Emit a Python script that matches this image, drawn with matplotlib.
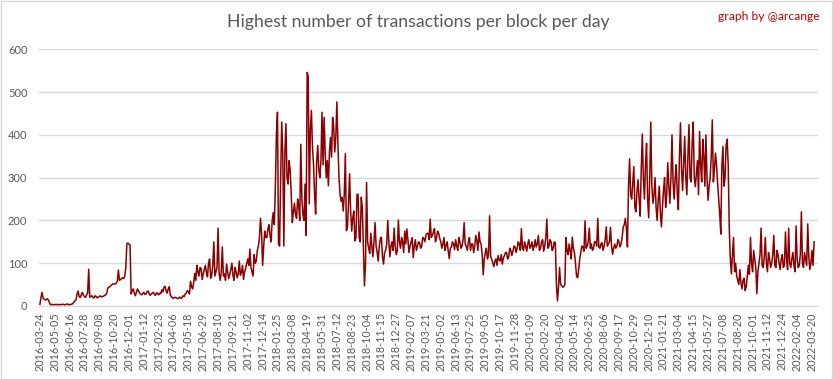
import numpy as np
import matplotlib.pyplot as plt
from matplotlib.patches import Rectangle

plt.rcParams['font.family'] = ['Lato', 'DejaVu Sans']

# category axis labels (Excel shows one every 42 rows)
tick_dates = ['2016-03-24', '2016-05-05', '2016-06-16', '2016-07-28', '2016-09-08',
              '2016-10-20', '2016-12-01', '2017-01-12', '2017-02-23', '2017-04-06',
              '2017-05-18', '2017-06-29', '2017-08-10', '2017-09-21', '2017-11-02',
              '2017-12-14', '2018-01-25', '2018-03-08', '2018-04-19', '2018-05-31',
              '2018-07-12', '2018-08-23', '2018-10-04', '2018-11-15', '2018-12-27',
              '2019-02-07', '2019-03-21', '2019-05-02', '2019-06-13', '2019-07-25',
              '2019-09-05', '2019-10-17', '2019-11-28', '2020-01-09', '2020-02-20',
              '2020-04-02', '2020-05-14', '2020-06-25', '2020-08-06', '2020-09-17',
              '2020-10-29', '2020-12-10', '2021-01-21', '2021-03-04', '2021-04-15',
              '2021-05-27', '2021-07-08', '2021-08-20', '2021-10-01', '2021-11-12',
              '2021-12-24', '2022-02-04', '2022-03-20']

# highest number of tx in a block, one reading every 3 rows (days)
seg_2016 = [4, 20, 32, 18, 16, 14, 15, 17, 14, 8,
            3, 3, 4, 3, 3, 4, 3, 3, 4, 3,
            3, 4, 4, 3, 3, 4, 5, 3, 3, 4,
            4, 6, 9, 12, 14, 28, 35, 22, 20, 26,
            32, 25, 22, 20, 26, 30, 86, 21, 22, 24,
            20, 19, 24, 22, 19, 21, 22, 24, 21, 22,
            23, 25, 26, 30, 42, 44, 45, 48, 50, 52,
            51, 52, 53, 58, 84, 60, 62, 64, 66, 64,
            70, 90, 146, 147, 144, 143, 28, 36, 40, 30,
            24, 32, 40, 35, 30, 28, 26, 29, 32, 27,
            28, 33, 35, 29, 25, 28, 30, 32, 27, 25,
            31, 29, 26, 30, 29, 38, 33, 44, 46, 35,
            30, 40]
seg_2017 = [45, 25, 22, 19, 18, 20, 20, 18,
            17, 19, 21, 18, 19, 24, 22, 28, 30, 36, 34, 28, 58, 45, 40, 55, 76, 60, 95, 80,
            70, 90, 88, 62, 75, 85, 95, 78, 68, 100, 110, 65, 72, 95, 150, 70, 80, 90, 182, 75,
            60, 80, 138, 70, 75, 60, 98, 80, 64, 75, 85, 100, 72, 60, 90, 80, 66, 75, 105, 72,
            78, 95, 62, 80, 88, 100, 110, 95, 133, 90, 80, 70, 120, 100, 105, 130, 140, 160, 205, 170,
            95, 140, 175, 160, 160, 180, 190, 165, 150, 200, 218, 190, 277, 402, 453, 145, 140, 300, 430, 354,
            140, 360, 426, 300, 285, 340, 317, 260, 195, 220, 240, 215, 205, 250]
seg_2018 = [235, 200, 378, 250, 215, 200, 285, 165, 546, 536, 239, 413, 457, 371, 330, 260, 215, 340, 375, 317,
            300, 340, 453, 330, 441, 356, 300, 340, 281, 360, 394, 348, 441, 418, 360, 395, 477, 379, 300, 261,
            245, 254, 222, 261, 356, 176, 185, 240, 309, 222, 175, 207, 222, 152, 160, 261, 261, 160, 150, 254,
            230, 137, 47, 98, 289, 150, 135, 123, 170, 140, 115, 150, 195, 140, 125, 105, 140, 157, 161, 115,
            98, 125, 130, 145, 200, 150, 115, 140, 150, 130, 182, 140, 120, 130, 201, 150, 135, 160, 150, 125,
            175, 145, 180, 155, 125, 140, 150, 160, 113, 140, 155, 130, 140, 150, 148, 135, 140, 160, 158, 150,
            165, 170]
seg_2019 = [170, 155, 203, 160, 165, 172, 181, 150, 160, 175, 170, 158, 150, 135, 145, 160, 130, 142, 150, 128,
            111, 135, 138, 150, 145, 132, 155, 140, 130, 160, 150, 135, 140, 155, 195, 145, 140, 130, 150, 160,
            130, 145, 145, 125, 140, 165, 152, 130, 173, 150, 145, 120, 73, 110, 125, 135, 110, 120, 211, 115,
            110, 100, 92, 105, 110, 95, 118, 108, 105, 120, 98, 112, 118, 125, 125, 110, 115, 135, 130, 118,
            128, 140, 138, 125, 135, 150, 145, 130, 181, 135, 130, 150, 140, 128, 145, 155, 135, 140, 150, 130,
            140, 155, 138, 145, 165, 130, 135, 150, 155, 128, 140, 160, 203, 135, 140, 155, 150, 130, 135, 150,
            148, 51]
seg_2020 = [12, 45, 90, 50, 48, 44, 45, 50, 160, 130, 120, 145, 130, 110, 161, 135, 125, 100, 70, 66, 85, 110,
            125, 140, 138, 128, 199, 135, 140, 150, 182, 135, 145, 130, 135, 150, 150, 140, 205, 138,
            135, 145, 148, 130, 140, 155, 185, 140, 145, 150, 184, 140, 121, 135, 145, 135, 140, 155, 150, 138,
            145, 160, 185, 190, 205, 180, 138, 280, 344, 260, 250, 290, 326, 230, 220, 270, 295, 250, 210, 320,
            402, 300, 250, 330, 380, 250, 206, 300, 430, 280, 240, 260, 300, 230, 200, 250, 280, 220, 185, 230,
            270, 300, 230, 260, 335, 280, 240, 300, 400, 290, 250, 300, 330, 260, 225, 350, 428, 320, 270, 330]
seg_2021 = [396, 300, 260, 350, 424, 300, 290, 380, 430, 300, 279, 310, 340, 260, 408, 330, 290, 390, 350, 280,
            400, 300, 247, 280, 300, 350, 435, 290, 320, 357, 330, 287, 250, 216, 168, 326, 373, 280, 300, 376,
            390, 330, 180, 110, 75, 120, 160, 80, 100, 70, 60, 50, 85, 55, 40, 60, 65, 36, 45, 70,
            95, 74, 160, 100, 80, 130, 110, 90, 29, 80, 100, 120, 182, 95, 90, 115, 160, 100, 80, 125,
            110, 90, 100, 120, 165, 95, 90, 130, 120, 100, 85, 110, 120, 90, 95, 173, 110, 85, 182, 100,
            90, 110, 125, 95, 80, 187, 110, 90, 95, 120, 220, 100, 90, 125, 110, 95, 192, 115, 85, 100,
            130, 95, 150]

values = seg_2016 + seg_2017 + seg_2018 + seg_2019 + seg_2020 + seg_2021
step = 3
label_every = 42

W, H = 833, 379
fig = plt.figure(figsize=(W / 100, H / 100), dpi=100)
fig.patches.append(Rectangle((0.5 / W, 0.5 / H), 1 - 1.5 / W, 1 - 1.5 / H, fill=False,
                             edgecolor='#d9d9d9', lw=1, transform=fig.transFigure))

ax = fig.add_axes([38.5 / W, 1 - 306 / H, (818 - 38.5) / W, (306 - 49.3) / H])
x = np.arange(len(values)) * step
ax.plot(x, values, color='#8b0000', lw=1.1, zorder=3)

ax.set_ylim(0, 600)
ax.set_yticks(range(0, 601, 100))
ax.set_xlim(-4, 2201)
ax.set_xticks(np.arange(len(tick_dates)) * label_every)
ax.set_xticklabels(tick_dates, rotation=90)
ax.tick_params(axis='x', length=0, pad=4.5, labelsize=7.8, labelcolor='#595959')
ax.tick_params(axis='y', length=0, pad=8, labelsize=8, labelcolor='#595959')
ax.grid(axis='y', color='#d9d9d9', lw=1)
ax.set_axisbelow(True)
for s in ['left', 'right', 'top']:
    ax.spines[s].set_visible(False)
ax.spines['bottom'].set_color('#d9d9d9')

fig.text(0.502, 1 - 22 / H, 'Highest number of transactions per block per day',
         ha='center', va='center', fontsize=12.7, color='#595959')
fig.text(0.984, 1 - 17 / H, 'graph by @arcange', ha='right', va='center',
         fontsize=8.7, color='#c00000')

fig.savefig('out.png', dpi=100)
